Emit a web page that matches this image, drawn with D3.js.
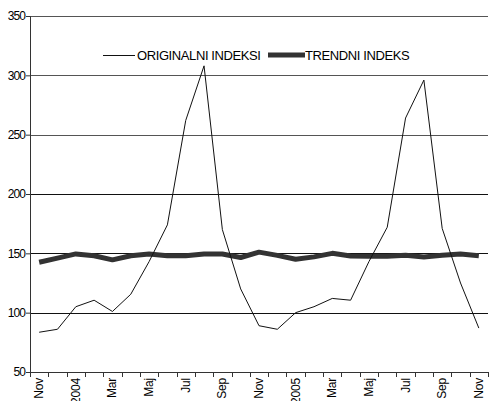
<!DOCTYPE html>
<html>
<head>
<meta charset="utf-8">
<script src="https://cdn.jsdelivr.net/npm/d3@7"></script>
<style>
  body { margin: 0; background: #fff; }
  text { font-family: "Liberation Sans", Arial, sans-serif; font-size: 12px; letter-spacing: -0.5px; fill: #000; }
</style>
</head>
<body>
<div id="chart"></div>
<script>
// categories (Nov 2003 - Nov 2005)
const months = ["Nov", "Dec", "2004", "Feb", "Mar", "Apr", "Maj", "Jun", "Jul", "Avg", "Sep", "Okt",
                "Nov", "Dec", "2005", "Feb", "Mar", "Apr", "Maj", "Jun", "Jul", "Avg", "Sep", "Okt", "Nov"];

const original = [83.5, 86, 105, 110.5, 101, 115.5, 143, 174, 262, 308, 170, 120,
                  89, 86, 100, 105, 112, 110.5, 143, 172, 264, 296, 171, 125, 87];

const trend = [142.5, 146, 149.5, 148, 144.5, 148, 149.5, 148, 148, 149.5, 149.5, 146.5,
               151, 148.3, 145, 147, 150, 147.7, 147.5, 147.5, 148.3, 147, 148.3, 149.5, 148];

const yTicks = [50, 100, 150, 200, 250, 300, 350];

const legendNames = ["ORIGINALNI INDEKSI", "TRENDNI INDEKS"];

let margin = {top: 16, right: 1, bottom: 29, left: 30},
    width = 489 - margin.left - margin.right,
    height = 401 - margin.top - margin.bottom;

let svg = d3.select("#chart")
  .append("svg")
    .attr("width", 489)
    .attr("height", 401)
  .append("g")
    .attr("transform", `translate(${margin.left}, ${margin.top})`);

const idx = months.map((d, i) => i);

const x = d3.scaleBand()
  .domain(idx)
  .range([0, width]);

const y = d3.scaleLinear()
  .domain([50, 350])
  .range([height, 0]);

// gridlines
svg.append("g")
  .selectAll("line")
  .data(yTicks.filter(d => d > 50))
  .join("line")
    .attr("x1", 0)
    .attr("x2", width)
    .attr("y1", d => Math.round(y(d)) + 0.5)
    .attr("y2", d => Math.round(y(d)) + 0.5)
    .attr("stroke", d => d > 200 ? "#555" : "#111")
    .attr("stroke-width", 1);

// y axis
const yAxis = svg.append("g")
  .call(d3.axisLeft(y).tickValues(yTicks).tickSize(4).tickPadding(1).tickFormat(d3.format("d")));
yAxis.select(".domain").attr("stroke", "#333");
yAxis.selectAll(".tick line").attr("stroke", "#333");
yAxis.selectAll("text")
  .style("font-size", "12px")
  .style("letter-spacing", "-0.9px")
  .style("font-family", "Liberation Sans, Arial, sans-serif");

// x axis with ticks at band boundaries
const xg = svg.append("g")
  .attr("transform", `translate(0, ${height})`);
xg.append("line")
  .attr("x1", 0).attr("x2", width)
  .attr("y1", 0.5).attr("y2", 0.5)
  .attr("stroke", "#333");
xg.selectAll(".xtick")
  .data(idx.concat([months.length]))
  .join("line")
    .attr("class", "xtick")
    .attr("x1", d => Math.round(d * x.step()) + 0.5)
    .attr("x2", d => Math.round(d * x.step()) + 0.5)
    .attr("y1", 0)
    .attr("y2", 5)
    .attr("stroke", "#333");
xg.selectAll(".xlabel")
  .data(idx.filter(i => i % 2 === 0))
  .join("text")
    .attr("class", "xlabel")
    .attr("text-anchor", "end")
    .style("letter-spacing", "-0.2px")
    .attr("transform", d => `translate(${x(d) + x.bandwidth() / 2 + 4}, 6) rotate(-90)`)
    .text(d => months[d]);

const line = d3.line()
  .x((d, i) => x(i) + x.bandwidth() / 2)
  .y(d => y(d));

svg.append("path")
  .datum(trend)
  .attr("fill", "none")
  .attr("stroke", "#333")
  .attr("stroke-width", 5)
  .attr("stroke-linejoin", "round")
  .attr("d", line);

svg.append("path")
  .datum(original)
  .attr("fill", "none")
  .attr("stroke", "#111")
  .attr("stroke-width", 1)
  .attr("d", line);

// legend
const legend = svg.append("g")
  .attr("transform", `translate(0, ${55 - margin.top})`);
legend.append("line")
  .attr("x1", 73).attr("x2", 105).attr("y1", 0.5).attr("y2", 0.5)
  .attr("stroke", "#111").attr("stroke-width", 1);
legend.append("text")
  .attr("x", 107).attr("y", 4.5)
  .style("font-size", "13px")
  .style("letter-spacing", "-0.4px")
  .text(legendNames[0]);
legend.append("line")
  .attr("x1", 238).attr("x2", 275).attr("y1", 0).attr("y2", 0)
  .attr("stroke", "#333").attr("stroke-width", 5);
legend.append("text")
  .attr("x", 275).attr("y", 4.5)
  .style("font-size", "13px")
  .style("letter-spacing", "-0.4px")
  .text(legendNames[1]);
</script>
</body>
</html>
